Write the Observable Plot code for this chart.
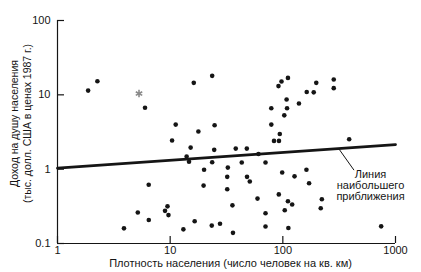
<!DOCTYPE html>
<html><head><meta charset="utf-8">
<script src="https://cdn.jsdelivr.net/npm/d3@7"></script>
<script src="https://cdn.jsdelivr.net/npm/@observablehq/plot@0.6"></script>
<style>html,body{margin:0;padding:0;background:#fff}</style>
</head><body><div id="chart"></div>
<script>
// Population density (people per sq. km) and income per capita (thousand 1987 USD)
const density = [1.87, 2.26, 5.98, 3.89, 5.16, 6.46, 6.45, 9.47, 9.00, 9.66, 10.4, 11.2, 16.2, 23.6, 17.8, 24.8, 15.2, 24.6, 38.2, 47.9, 14.0, 14.7, 23.6, 43.2, 70.2, 60.8, 20.0, 32.5, 32.1, 48.1, 50.9, 19.8, 32.1, 59.6, 35.7, 70.2, 16.5, 27.7, 23.4, 70.2, 13.1, 36.1, 79.0, 79.0, 91.5, 97.3, 111, 198, 283, 283, 163, 188, 108, 109, 139, 103, 94.0, 83.5, 92.4, 388, 98.7, 127, 162, 171, 92.1, 111, 121, 104, 222, 217, 112, 746];
const income = [11.4, 15.2, 6.70, 0.160, 0.261, 0.207, 0.617, 0.316, 0.275, 0.241, 2.43, 3.98, 14.5, 18.0, 3.21, 3.89, 1.95, 1.82, 1.89, 1.89, 1.48, 1.26, 1.24, 1.23, 1.23, 1.60, 0.98, 1.05, 0.788, 0.788, 0.681, 0.601, 0.536, 0.402, 0.326, 0.255, 0.199, 0.184, 0.174, 0.169, 0.155, 0.139, 6.60, 3.98, 13.1, 15.1, 16.9, 14.5, 16.1, 12.3, 10.9, 10.8, 8.65, 6.60, 7.64, 5.30, 2.97, 2.40, 2.40, 2.53, 0.90, 0.80, 0.98, 0.646, 0.458, 0.370, 0.334, 0.280, 0.393, 0.298, 0.162, 0.170];
const grayDensity = [5.29];
const grayIncome = [10.4];
const fitDensity = [1, 1000];
const fitIncome = [1.03, 2.14];
const leaderDensity = [314, 426];
const leaderIncome = [1.88, 0.98];
const xTicks = [1, 10, 100, 1000];
const xTickLabels = ["1", "10", "100", "1000"];
const yTicks = [0.1, 1, 10, 100];
const yTickLabels = ["0.1", "1", "10", "100"];
const xTitle = "Плотность населения (число человек на кв. км)";
const yTitle1 = "Доход на душу населения";
const yTitle2 = "(тыс. долл. США в ценах 1987 г.)";
const noteText = "Линия\nнаибольшего\nприближения";
const noteDensity = [600];
const noteIncome = [0.60];

const points = density.map((d, i) => ({x: d, y: income[i]}));
const grayPts = grayDensity.map((d, i) => ({x: d, y: grayIncome[i]}));
const fit = fitDensity.map((d, i) => ({x: d, y: fitIncome[i]}));
const leader = leaderDensity.map((d, i) => ({x: d, y: leaderIncome[i]}));
const note = noteDensity.map((d, i) => ({x: d, y: noteIncome[i], t: noteText}));

const W = 421, H = 272, mL = 57, mR = 26, mT = 20, mB = 29;
const ink = "#151515";
const chart = Plot.plot({
  width: W, height: H,
  marginLeft: mL, marginRight: mR, marginTop: mT, marginBottom: mB,
  style: {fontFamily: "'Liberation Sans', Arial, sans-serif", fontSize: "11px", color: ink, background: "#fff", overflow: "visible"},
  x: {type: "log", domain: [1, 1000]},
  y: {type: "log", domain: [0.1, 100]},
  marks: [
    Plot.ruleX([1], {stroke: ink, strokeWidth: 1.2}),
    Plot.ruleY([0.1], {stroke: ink, strokeWidth: 1.2}),
    Plot.ruleX(xTicks, {insetTop: (H - mT - mB) - 7, stroke: ink, strokeWidth: 1.2}),
    Plot.ruleY(yTicks, {insetRight: (W - mL - mR) - 7, stroke: ink, strokeWidth: 1.2}),
    Plot.axisX({ticks: xTicks, tickFormat: d => xTickLabels[xTicks.indexOf(d)], tickSize: 0, tickPadding: 3, label: null, fontSize: 11}),
    Plot.axisY({ticks: yTicks, tickFormat: d => yTickLabels[yTicks.indexOf(d)], tickSize: 0, tickPadding: 7, label: null, fontSize: 11}),
    Plot.line(fit, {x: "x", y: "y", stroke: ink, strokeWidth: 2.8}),
    Plot.line(leader, {x: "x", y: "y", stroke: ink, strokeWidth: 1}),
    Plot.dot(points, {x: "x", y: "y", r: 2.3, fill: ink, stroke: "none"}),
    Plot.dot(grayPts, {x: "x", y: "y", symbol: "asterisk", r: 3.5, stroke: "#8a8a8a", strokeWidth: 1.6}),
    Plot.text(note, {x: "x", y: "y", text: "t", textAnchor: "middle", lineHeight: 1.02, fontSize: 11, fill: ink}),
    Plot.text([xTitle], {frameAnchor: "bottom", textAnchor: "middle", dy: 23, dx: 4, fontSize: 11, fill: ink}),
    Plot.text([yTitle1], {frameAnchor: "left", textAnchor: "middle", rotate: -90, dx: -43, dy: -8.5, fontSize: 10.5, fill: ink}),
    Plot.text([yTitle2], {frameAnchor: "left", textAnchor: "middle", rotate: -90, dx: -30, dy: -8.5, fontSize: 10.5, fill: ink})
  ]
});
document.getElementById("chart").appendChild(chart);
</script>
</body></html>
